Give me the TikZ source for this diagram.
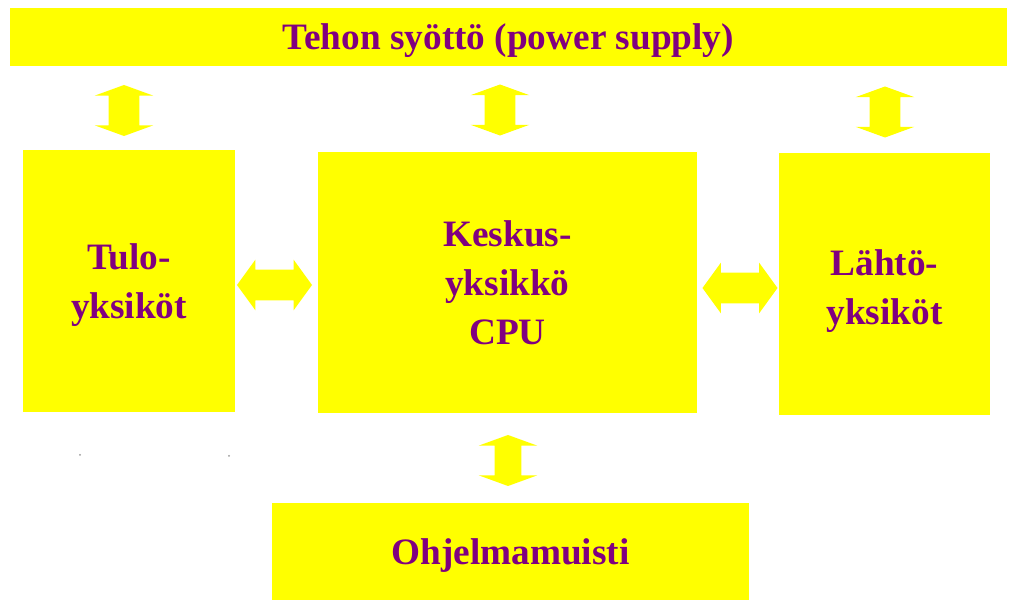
\documentclass[tikz,border=0pt]{standalone}
\usepackage{fontspec}
\setmainfont{Liberation Serif}
\usetikzlibrary{shapes.arrows,calc}
\definecolor{boxyellow}{HTML}{FFFF00}
\definecolor{textpurple}{HTML}{800080}
\tikzset{
  unit/.style={fill=boxyellow, draw=none, align=center, inner sep=0pt, text=textpurple, font=\fontsize{26.5}{35}\selectfont\bfseries},
  dbl/.style={double arrow, fill=boxyellow, draw=none},
  dblv/.style={dbl, rotate=90, inner sep=0.375cm, minimum height=1.275cm, double arrow head extend=0.35cm, double arrow tip angle=140},
  dblh/.style={dbl, inner sep=0.375cm, minimum height=1.875cm, double arrow head extend=0.25cm, double arrow tip angle=108},
  speck/.style={fill=gray!80},
}
\begin{document}
\begin{tikzpicture}[x=0.025cm,y=-0.025cm]
  \useasboundingbox (0,0) rectangle (1009,602);
  % units
  \node[unit, text depth=0pt, minimum width=24.925cm, minimum height=1.45cm] (power) at (508.5,37) {Tehon syöttö (power supply)};
  \node[unit, text height=59pt, minimum width=5.3cm, minimum height=6.55cm] (tulo) at (129,281) {Tulo-\\yksiköt};
  \node[unit, minimum width=9.475cm, minimum height=6.525cm] (cpu) at (507.5,282.5) {Keskus-\\yksikkö\\CPU};
  \node[unit, text height=63pt, minimum width=5.275cm, minimum height=6.55cm] (lahto) at (884.5,284) {Lähtö-\\yksiköt};
  \node[unit, text depth=0pt, minimum width=11.925cm, minimum height=2.425cm] (muisti) at (510.5,551.5) {Ohjelmamuisti};
  % block arrows
  \node[dblv] (pt) at (124,110.5) {};
  \node[dblv] (pc) at (500,110) {};
  \node[dblv] (pl) at (885,112) {};
  \node[dblh] (tc) at (274.5,285) {};
  \node[dblh] (cl) at (740,288) {};
  \node[dblv, inner sep=0.325cm, double arrow head extend=0.4cm] (cm) at (508,460.5) {};
  % specks
  \fill[speck] (80,455) circle (1);
  \fill[speck] (229,456) circle (1);
\end{tikzpicture}
\end{document}
